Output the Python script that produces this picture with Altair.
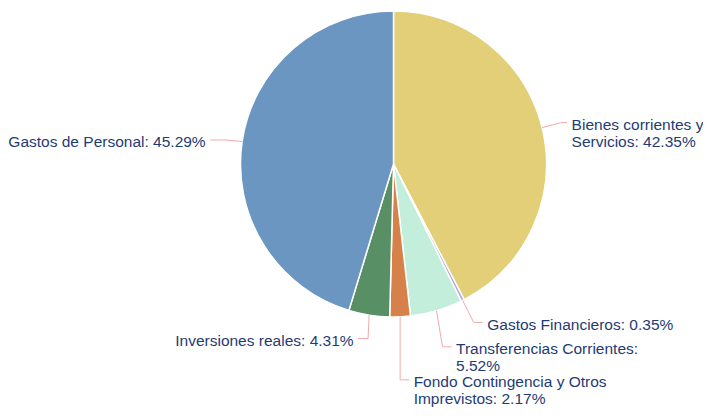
import textwrap
import altair as alt
import pandas as pd

# ---- data ----
categories = [
    "Bienes corrientes y Servicios",
    "Gastos Financieros",
    "Transferencias Corrientes",
    "Fondo Contingencia y Otros Imprevistos",
    "Inversiones reales",
    "Gastos de Personal",
]
values = [42.35, 0.35, 5.52, 2.17, 4.31, 45.29]
colors = ["#E3CF77", "#B7A3DB", "#C3EEDB", "#D6804A", "#588F65", "#6A96C1"]

# ---- label layout (offsets from slice edge to connector elbow; stub length, signed) ----
elbow_dx = [19, 11, 6, 0, -1, -17]
elbow_dy = [-5, 22, 36, 63, 23.5, -1.5]
stub = [6, 9, 9, 9, -10, -15]

W, H = 695, 402
CX, CY, R = 385.5, 156, 153
TEXT_COLOR = "#1F3B73"
LINE_COLOR = "#F2ABAA"

labels = [
    "\n".join(textwrap.wrap(f"{c}: {v:.2f}%", width=26))
    for c, v in zip(categories, values)
]

df = pd.DataFrame({
    "idx": list(range(len(categories))),
    "category": categories,
    "value": values,
    "label": labels,
    "dx": elbow_dx,
    "dy": elbow_dy,
    "stub": stub,
})

pie = alt.Chart(df).mark_arc(radius=R, stroke="white", strokeWidth=1.5).encode(
    theta=alt.Theta("value:Q", stack=True),
    color=alt.Color("category:N", scale=alt.Scale(domain=categories, range=colors), legend=None),
    order=alt.Order("idx:Q"),
    x=alt.value(CX),
    y=alt.value(CY),
)

base = (
    alt.Chart(df)
    .transform_joinaggregate(total="sum(value)")
    .transform_window(cum="sum(value)", sort=[alt.SortField("idx")], frame=[None, 0])
    .transform_calculate(mid="2*PI*(datum.cum - datum.value/2)/datum.total")
    .transform_calculate(
        ex=f"{CX} + {R}*sin(datum.mid)",
        ey=f"{CY} - {R}*cos(datum.mid)",
    )
    .transform_calculate(bx="datum.ex + datum.dx", by="datum.ey + datum.dy")
    .transform_calculate(
        sx="datum.bx + datum.stub",
        tx="datum.bx + datum.stub + (datum.stub > 0 ? 4.5 : -4.5)",
        ty="datum.ey + datum.dy - 4.5",
    )
)

seg1 = base.mark_rule(color=LINE_COLOR, strokeWidth=1).encode(
    x=alt.X("ex:Q", scale=None, axis=None),
    y=alt.Y("ey:Q", scale=None, axis=None),
    x2="bx:Q",
    y2="by:Q",
)
seg2 = base.mark_rule(color=LINE_COLOR, strokeWidth=1).encode(
    x=alt.X("bx:Q", scale=None, axis=None),
    y=alt.Y("by:Q", scale=None, axis=None),
    x2="sx:Q",
    y2="by:Q",
)

text_kw = dict(baseline="top", lineBreak="\n", fontSize=15.5, lineHeight=17,
               font="Liberation Sans", color=TEXT_COLOR)
text_right = base.transform_filter("datum.stub > 0").mark_text(align="left", **text_kw).encode(
    x=alt.X("tx:Q", scale=None, axis=None),
    y=alt.Y("ty:Q", scale=None, axis=None),
    text="label:N",
)
text_left = base.transform_filter("datum.stub < 0").mark_text(align="right", **text_kw).encode(
    x=alt.X("tx:Q", scale=None, axis=None),
    y=alt.Y("ty:Q", scale=None, axis=None),
    text="label:N",
)

chart = (
    alt.layer(pie, seg1, seg2, text_right, text_left)
    .properties(width=W, height=H, autosize="none", padding=0)
    .configure_view(stroke=None)
)

chart.save("out.html", embed_options={"renderer": "svg", "actions": False})
